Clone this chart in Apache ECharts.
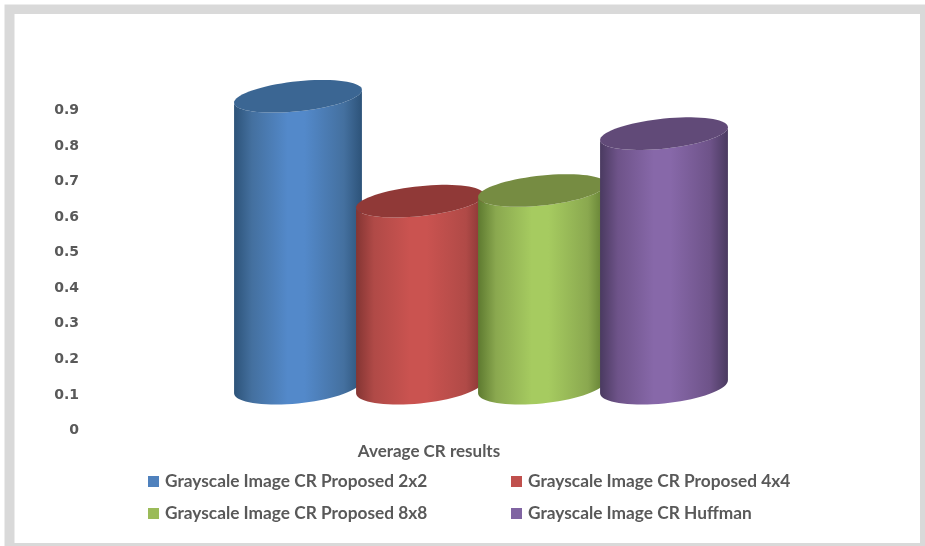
<!DOCTYPE html>
<html>
<head>
<meta charset="utf-8">
<style>html,body{margin:0;padding:0;background:#fff}#chart{width:925px;height:546px}</style>
<script src="https://cdn.jsdelivr.net/npm/echarts@6/dist/echarts.min.js"></script>
</head>
<body>
<div id="chart"></div>
<script>
// Average compression ratio per coding scheme
const categories = ['Average CR results'];
const seriesNames = [
  'Grayscale Image CR Proposed 2x2',
  'Grayscale Image CR Proposed 4x4',
  'Grayscale Image CR Proposed 8x8',
  'Grayscale Image CR Huffman'
];
const proposed2x2 = [0.94];
const proposed4x4 = [0.645];
const proposed8x8 = [0.675];
const huffman = [0.835];
const seriesValues = [proposed2x2, proposed4x4, proposed8x8, huffman];

// Cylinder shading: [edge, shoulder, centre, lid, legend swatch]
const palette = [
  ['#2d5379', '#44709f', '#5389ca', '#3b6693', '#4f81bd'],
  ['#843533', '#b04a47', '#ca5350', '#903937', '#c0504d'],
  ['#5e7a30', '#8aa84f', '#a6cb60', '#768c42', '#9bbb59'],
  ['#4a3a60', '#6e5389', '#8768a9', '#614a78', '#8064a2']
];

const TEXT = '#595959';
const LABEL_FONT = 'Lato, "Open Sans", sans-serif';
const TICK_FONT = '"DejaVu Sans", sans-serif';

// Projection of the 3D view, as fractions of the category band
const SLOT = 0.25;         // horizontal pitch of the cylinders
const HALF_WIDTH = 0.131;  // half a cylinder's width
const SHEAR = 0.1;         // rise of the ellipse per unit of x
const LID_RATIO = 0.235;   // lid's half-depth over half-width
const BASE_RATIO = 0.26;   // base's half-depth over half-width
const FLOOR_VALUE = 0.123; // axis value the projected floor sits at

function ellipsePoint(cx, cy, a, b, t) {
  const c = Math.cos(t), s = Math.sin(t);
  return [cx + a * c, cy - SHEAR * a * c + b * s];
}

function renderCylinder(index) {
  return function (params, api) {
    const x = api.value(0);
    const origin = api.coord([x, 0]);
    const yTop = api.coord([x, api.value(1)])[1];
    const yBase = api.coord([x, FLOOR_VALUE])[1];
    const band = api.size([1, 0])[0];
    const cx = origin[0] + (index - 1.5) * SLOT * band;
    const a = HALF_WIDTH * band;
    const n = 36;
    const body = [];
    // Front half of the lid, right to left, then front half of the base, left to right
    for (let i = 0; i <= n; i++) body.push(ellipsePoint(cx, yTop, a, a * LID_RATIO, Math.PI * i / n));
    for (let i = n; i >= 0; i--) body.push(ellipsePoint(cx, yBase, a, a * BASE_RATIO, Math.PI * i / n));
    const lid = [];
    for (let i = 0; i < n * 2; i++) lid.push(ellipsePoint(cx, yTop, a, a * LID_RATIO, Math.PI * i / n));
    const [edge, shoulder, centre, lidColor] = palette[index];
    return {
      type: 'group',
      children: [
        {
          type: 'polygon',
          shape: { points: body },
          style: {
            fill: new echarts.graphic.LinearGradient(0, 0, 1, 0, [
              { offset: 0, color: edge },
              { offset: 0.14, color: shoulder },
              { offset: 0.42, color: centre },
              { offset: 0.55, color: centre },
              { offset: 0.86, color: shoulder },
              { offset: 1, color: edge }
            ])
          }
        },
        { type: 'polygon', shape: { points: lid }, style: { fill: lidColor } }
      ]
    };
  };
}

const legendBase = {
  orient: 'vertical',
  itemWidth: 11,
  itemHeight: 11,
  itemGap: 15,
  icon: 'rect',
  padding: 0,
  textStyle: { color: TEXT, fontFamily: LABEL_FONT, fontWeight: 700, fontSize: 17.3, padding: [0, 0, 0, 1] }
};

const chart = echarts.init(document.getElementById('chart'), null, { renderer: 'canvas' });
chart.setOption({
  animation: false,
  backgroundColor: '#ffffff',
  graphic: [
    { type: 'rect', silent: true, z: -2, shape: { x: 4.5, y: 4.5, width: 921, height: 542 }, style: { fill: '#d9d9d9' } },
    { type: 'rect', silent: true, z: -1, shape: { x: 14.5, y: 14, width: 905.5, height: 529 }, style: { fill: '#ffffff' } }
  ],
  grid: { left: 237, width: 488, top: 110.5, height: 320 },
  legend: [
    Object.assign({}, legendBase, { left: 148, top: 473, data: [seriesNames[0], seriesNames[2]] }),
    Object.assign({}, legendBase, { left: 511, top: 473, data: [seriesNames[1], seriesNames[3]] })
  ],
  xAxis: {
    type: 'category',
    data: categories,
    axisLine: { show: false },
    axisTick: { show: false },
    axisLabel: {
      color: TEXT, fontFamily: LABEL_FONT, fontWeight: 700, fontSize: 17,
      margin: 13, padding: [0, 104, 0, 0]
    }
  },
  yAxis: {
    type: 'value',
    min: 0,
    max: 0.9,
    interval: 0.1,
    axisLine: { show: false },
    axisTick: { show: false },
    splitLine: { show: false },
    axisLabel: {
      color: TEXT, fontFamily: TICK_FONT, fontWeight: 700, fontSize: 14,
      margin: 158
    }
  },
  series: seriesNames.map((name, i) => ({
    name,
    type: 'custom',
    coordinateSystem: 'cartesian2d',
    clip: false,
    renderItem: renderCylinder(i),
    itemStyle: { color: palette[i][4] },
    encode: { x: 0, y: 1 },
    data: seriesValues[i].map((v, j) => [j, v])
  }))
});
</script>
</body>
</html>
